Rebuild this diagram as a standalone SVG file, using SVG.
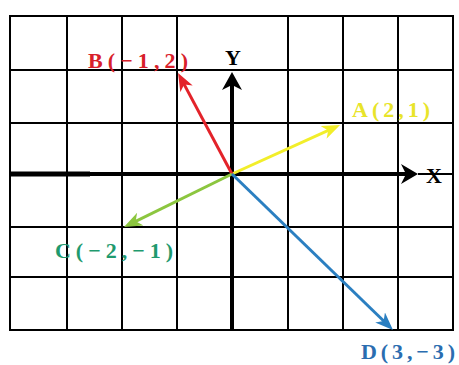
<svg xmlns="http://www.w3.org/2000/svg" width="459" height="365" viewBox="0 0 459 365">
<style>
.grid{stroke:#000;stroke-width:2;fill:none}
.axis{stroke:#000;stroke-width:4;fill:none}
.lbl{font-family:"Liberation Serif","Times New Roman",serif;font-weight:bold;font-size:22px}
.vec{stroke-width:3;fill:none}
</style>
<defs>
<marker id="mA" markerUnits="userSpaceOnUse" markerWidth="18" markerHeight="14" refX="13" refY="7" orient="auto"><path d="M0,0 L18,7 L0,14 L5,7 z" fill="#f2ee2a"/></marker>
<marker id="mB" markerUnits="userSpaceOnUse" markerWidth="18" markerHeight="14" refX="13" refY="7" orient="auto"><path d="M0,0 L18,7 L0,14 L5,7 z" fill="#e3232a"/></marker>
<marker id="mC" markerUnits="userSpaceOnUse" markerWidth="18" markerHeight="14" refX="13" refY="7" orient="auto"><path d="M0,0 L18,7 L0,14 L5,7 z" fill="#8cc63f"/></marker>
<marker id="mD" markerUnits="userSpaceOnUse" markerWidth="18" markerHeight="14" refX="13" refY="7" orient="auto"><path d="M0,0 L18,7 L0,14 L5,7 z" fill="#2b7fc1"/></marker>
</defs>
<rect width="459" height="365" fill="#fff"/>
<g id="grid">
<rect class="grid" x="10" y="16" width="443" height="314"/>
<path class="grid" d="M67,16V330 M122,16V330 M177,16V330 M288,16V330 M343,16V330 M398,16V330 M10,70H453 M10,123H453 M10,227H453 M10,277H453"/>
<path class="grid" d="M418,174H453"/>
</g>
<g id="axes">
<path class="axis" d="M10,174H406"/>
<path stroke="#000" stroke-width="5" d="M10,174H90"/>
<path class="axis" d="M232,330V82"/>
<path d="M418,174 L401,164 L406,174 L401,184 z" fill="#000"/>
<path d="M232,72 L222,90 L232,85 L242,90 z" fill="#000"/>
<text class="lbl" x="233" y="65" text-anchor="middle" font-size="20">Y</text>
<text class="lbl" x="434" y="183" text-anchor="middle" font-size="20">X</text>
</g>
<g id="connectors">
<line class="vec" x1="232" y1="174" x2="335.5" y2="127.1" stroke="#f2ee2a" marker-end="url(#mA)"/>
<line class="vec" x1="232" y1="174" x2="180.4" y2="77.4" stroke="#e3232a" marker-end="url(#mB)"/>
<line class="vec" x1="232" y1="174" x2="128.5" y2="224.8" stroke="#8cc63f" marker-end="url(#mC)"/>
<line class="vec" x1="232" y1="174" x2="389.4" y2="326.5" stroke="#2b7fc1" marker-end="url(#mD)"/>
</g>
<g id="nodeA"><text class="lbl" x="352" y="117" fill="#e8e42a" textLength="78" lengthAdjust="spacing">A(2,1)</text></g>
<g id="nodeB"><text class="lbl" x="88" y="68" fill="#d8202a" textLength="100" lengthAdjust="spacing">B(−1,2)</text></g>
<g id="nodeC"><text class="lbl" x="55" y="258" fill="#1f9a6e" textLength="118" lengthAdjust="spacing">C(−2,−1)</text></g>
<g id="nodeD"><text class="lbl" x="361" y="359" fill="#2a6db0" textLength="94" lengthAdjust="spacing">D(3,−3)</text></g>
</svg>
